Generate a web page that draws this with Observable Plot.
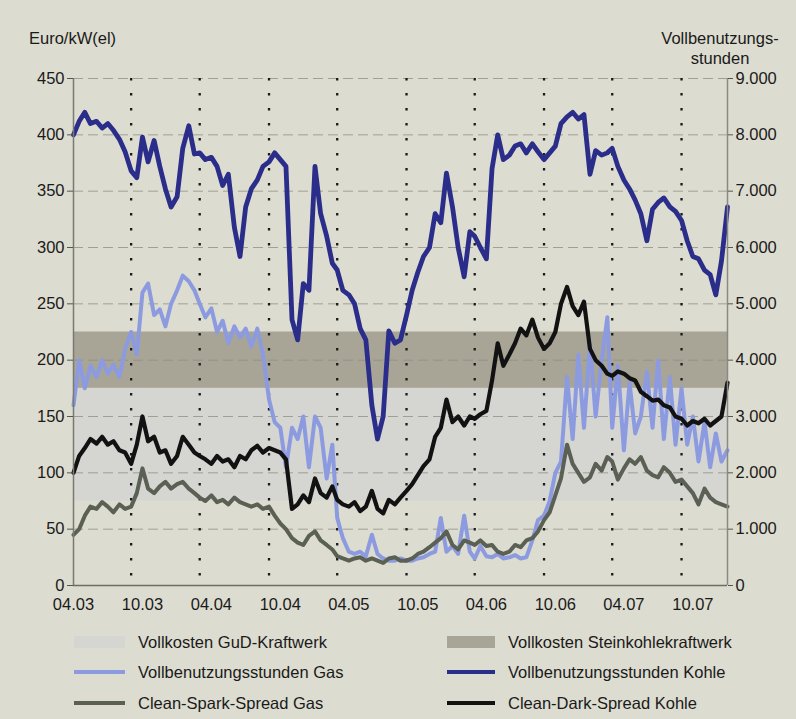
<!DOCTYPE html>
<html><head><meta charset="utf-8">
<script src="https://cdn.jsdelivr.net/npm/d3@7"></script>
<script src="https://cdn.jsdelivr.net/npm/@observablehq/plot@0.6"></script>
<style>
html,body{margin:0;padding:0;background:#dddcd0;}
#wrap{position:relative;width:796px;height:719px;overflow:hidden;background:#dddcd0;font-family:"Liberation Sans",Arial,sans-serif;color:#1a1a1a;}
#chart{position:absolute;left:0;top:0;}
.ttl{position:absolute;font-size:16.5px;line-height:20px;}
.lg{position:absolute;font-size:16.5px;line-height:20px;white-space:nowrap;}
.sw{position:absolute;}
</style></head><body>
<div id="wrap">
  <div id="chart"></div>
  <div class="ttl" style="left:29px;top:28px;">Euro/kW(el)</div>
  <div class="ttl" style="left:645px;top:28px;width:150px;text-align:center;">Vollbenutzungs-<br>stunden</div>
  <div id="legend"></div>
</div>
<script>
// half-monthly observations from 1 April 2003 to 1 January 2008
const startYear = 2003, startMonth = 4;
// Vollbenutzungsstunden Kohle (hours)
const coalHours = [8000,8240,8400,8200,8240,8120,8200,8080,7920,7700, 7360,7240,7960,7520,7900,7440,7040,6720,6900,7760, 8160,7660,7680,7560,7600,7440,7100,7300,6360,5840, 6720,7040,7200,7440,7520,7680,7560,7440,4720,4360, 5360,5240,7440,6600,6200,5720,5600,5240,5160,5000, 4560,4360,3200,2600,3000,4520,4300,4360,4800,5240, 5560,5840,6000,6600,6440,7320,6720,6000,5480,6280, 6200,6000,5800,7400,8000,7560,7640,7800,7840,7680, 7840,7700,7560,7680,7800,8200,8320,8400,8280,8360, 7300,7720,7640,7680,7760,7440,7200,7040,6840,6600, 6120,6680,6800,6880,6720,6640,6480,6120,5840,5800, 5600,5520,5160,5760,6720];
// Vollbenutzungsstunden Gas (hours)
const gasHours = [3200,4000,3500,3900,3700,4000,3760,3920,3700,4200, 4500,4100,5200,5360,4800,4900,4600,5000,5240,5500, 5400,5240,5000,4760,4920,4500,4700,4300,4600,4400, 4560,4240,4560,4100,3300,2900,2800,2100,2800,2600, 3000,2100,3000,2800,1900,2500,1200,840,600,560, 600,520,900,560,480,440,440,480,440,440, 480,500,560,600,1200,600,700,560,1240,600, 480,700,520,500,560,480,500,540,480,500, 800,1160,1240,1500,2000,2200,3700,2600,4100,2800, 4300,3000,4000,4760,2800,3900,2400,3600,2700,3000, 3800,2800,4000,2600,3700,2500,3500,2500,3000,2200, 2900,2100,2700,2200,2400];
// Clean-Dark-Spread Kohle (Euro/kW)
const darkSpread = [100,115,122,130,126,132,125,128,120,118, 108,125,150,128,132,118,120,108,115,132, 125,118,115,112,108,115,110,112,105,115, 112,120,124,118,122,120,118,112,68,72, 80,74,95,82,78,88,76,72,70,74, 66,70,84,68,64,76,72,78,84,90, 98,106,112,132,140,165,145,150,142,150, 148,152,155,182,215,195,205,215,228,222, 236,220,210,215,225,250,265,248,240,252, 210,200,195,188,186,190,188,184,182,172, 168,164,165,160,158,150,148,142,146,144, 148,142,146,150,180];
// Clean-Spark-Spread Gas (Euro/kW)
const sparkSpread = [45,50,62,70,68,74,70,65,72,68, 70,82,104,86,82,88,92,86,90,92, 86,82,78,75,80,74,76,72,78,74, 72,70,72,68,70,62,55,50,42,38, 36,44,48,40,36,32,26,24,22,24, 25,22,24,22,20,24,25,22,22,24, 28,30,34,38,42,48,36,32,40,38, 36,40,35,36,30,28,30,36,34,40, 42,48,58,65,80,95,125,108,100,92, 96,108,102,114,110,94,104,112,108,114, 102,98,96,105,100,92,94,88,82,72, 86,78,74,72,70];
// Vollkosten bands (Euro/kW)
const gudCost = [75, 175];
const coalCost = [175, 225];
const yTicks = [0,50,100,150,200,250,300,350,400,450];
const xTickLabels = ["2003-04-01","2003-10-01","2004-04-01","2004-10-01","2005-04-01","2005-10-01","2006-04-01","2006-10-01","2007-04-01","2007-10-01"];
const dottedLines = ["2003-09-01","2004-03-01","2004-09-01","2005-03-01","2005-09-01","2006-03-01","2006-09-01","2007-03-01","2007-09-01"];
const hoursPerEuro = 20; // right axis: 9.000 h ↔ 450 Euro/kW

const dates = coalHours.map((_, i) => new Date(Date.UTC(startYear, startMonth - 1 + Math.floor(i / 2), i % 2 ? 16 : 1)));
const rows = dates.map((d, i) => ({date: d, coal: coalHours[i], gas: gasHours[i], dark: darkSpread[i], spark: sparkSpread[i]}));
const x0 = dates[0], x1 = dates[dates.length - 1];
const toDate = s => new Date(s + "T00:00:00Z");
const fmtH = v => v === 0 ? "0" : d3.format(",")(v).replace(/,/g, ".");

const chart = Plot.plot({
  width: 796, height: 620,
  marginTop: 78, marginBottom: 35, marginLeft: 73, marginRight: 69,
  style: {background: "transparent", fontFamily: "Liberation Sans, Arial, sans-serif", fontSize: "16.5px", color: "#1a1a1a", overflow: "visible"},
  x: {type: "utc", domain: [x0, x1]},
  y: {domain: [0, 450]},
  marks: [
    Plot.rect([gudCost], {x1: () => x0, x2: () => x1, y1: d => d[0], y2: d => d[1], fill: "#d5d5d2"}),
    Plot.rect([coalCost], {x1: () => x0, x2: () => x1, y1: d => d[0], y2: d => d[1], fill: "#a9a596"}),
    Plot.ruleY(yTicks.filter(t => t > 0), {stroke: "#8c8c82", strokeWidth: 1, strokeDasharray: "10,5", strokeOpacity: 0.75}),
    Plot.ruleX(dottedLines.map(toDate), {stroke: "#1a1a1a", strokeWidth: 2.3, strokeDasharray: "2.5,12.5"}),
    Plot.lineY(rows, {x: "date", y: d => d.gas / hoursPerEuro, stroke: "#8c9be0", strokeWidth: 4}),
    Plot.lineY(rows, {x: "date", y: "spark", stroke: "#5b6055", strokeWidth: 4}),
    Plot.lineY(rows, {x: "date", y: "dark", stroke: "#121212", strokeWidth: 4.2}),
    Plot.lineY(rows, {x: "date", y: d => d.coal / hoursPerEuro, stroke: "#2b2d8a", strokeWidth: 4.8}),
    Plot.ruleX([x0], {stroke: "#7a7a72", strokeWidth: 1.5}),
    Plot.ruleX([x1], {stroke: "#8a8a82", strokeWidth: 1.5}),
    Plot.ruleY([0], {stroke: "#6e6e66", strokeWidth: 1.5}),
    Plot.axisY({anchor: "left", ticks: yTicks, tickSize: 6, tickPadding: 3, label: null, tickFormat: d => String(d), stroke: "#555"}),
    Plot.axisY({anchor: "right", ticks: yTicks, tickSize: 5, tickPadding: 3, label: null, tickFormat: d => fmtH(d * hoursPerEuro), stroke: "#555"}),
    Plot.axisX({ticks: xTickLabels.map(toDate), tickSize: 0, tickPadding: 13, label: null, tickFormat: d3.utcFormat("%m.%y")})
  ]
});
document.getElementById("chart").appendChild(chart);

// legend
const legendItems = [
  {label: "Vollkosten GuD-Kraftwerk", kind: "band", color: "#d5d5d2", col: 0, row: 0},
  {label: "Vollkosten Steinkohlekraftwerk", kind: "band", color: "#a9a596", col: 1, row: 0},
  {label: "Vollbenutzungsstunden Gas", kind: "line", color: "#8c9be0", col: 0, row: 1},
  {label: "Vollbenutzungsstunden Kohle", kind: "line", color: "#2b2d8a", col: 1, row: 1},
  {label: "Clean-Spark-Spread Gas", kind: "line", color: "#5b6055", col: 0, row: 2},
  {label: "Clean-Dark-Spread Kohle", kind: "line", color: "#121212", col: 1, row: 2}
];
const leg = document.getElementById("legend");
const colSw = [[74, 125], [447, 495]];
const colTx = [138, 508];
const rowY = [642, 672, 703];
legendItems.forEach(it => {
  const sw = document.createElement("div");
  sw.className = "sw";
  const [a, b] = colSw[it.col];
  const h = it.kind === "band" ? 12 : 4;
  sw.style.cssText = `left:${a}px;width:${b - a}px;top:${rowY[it.row] - h / 2}px;height:${h}px;background:${it.color};`;
  leg.appendChild(sw);
  const tx = document.createElement("div");
  tx.className = "lg";
  tx.textContent = it.label;
  tx.style.left = colTx[it.col] + "px";
  tx.style.top = (rowY[it.row] - 10) + "px";
  leg.appendChild(tx);
});
</script>
</body></html>
